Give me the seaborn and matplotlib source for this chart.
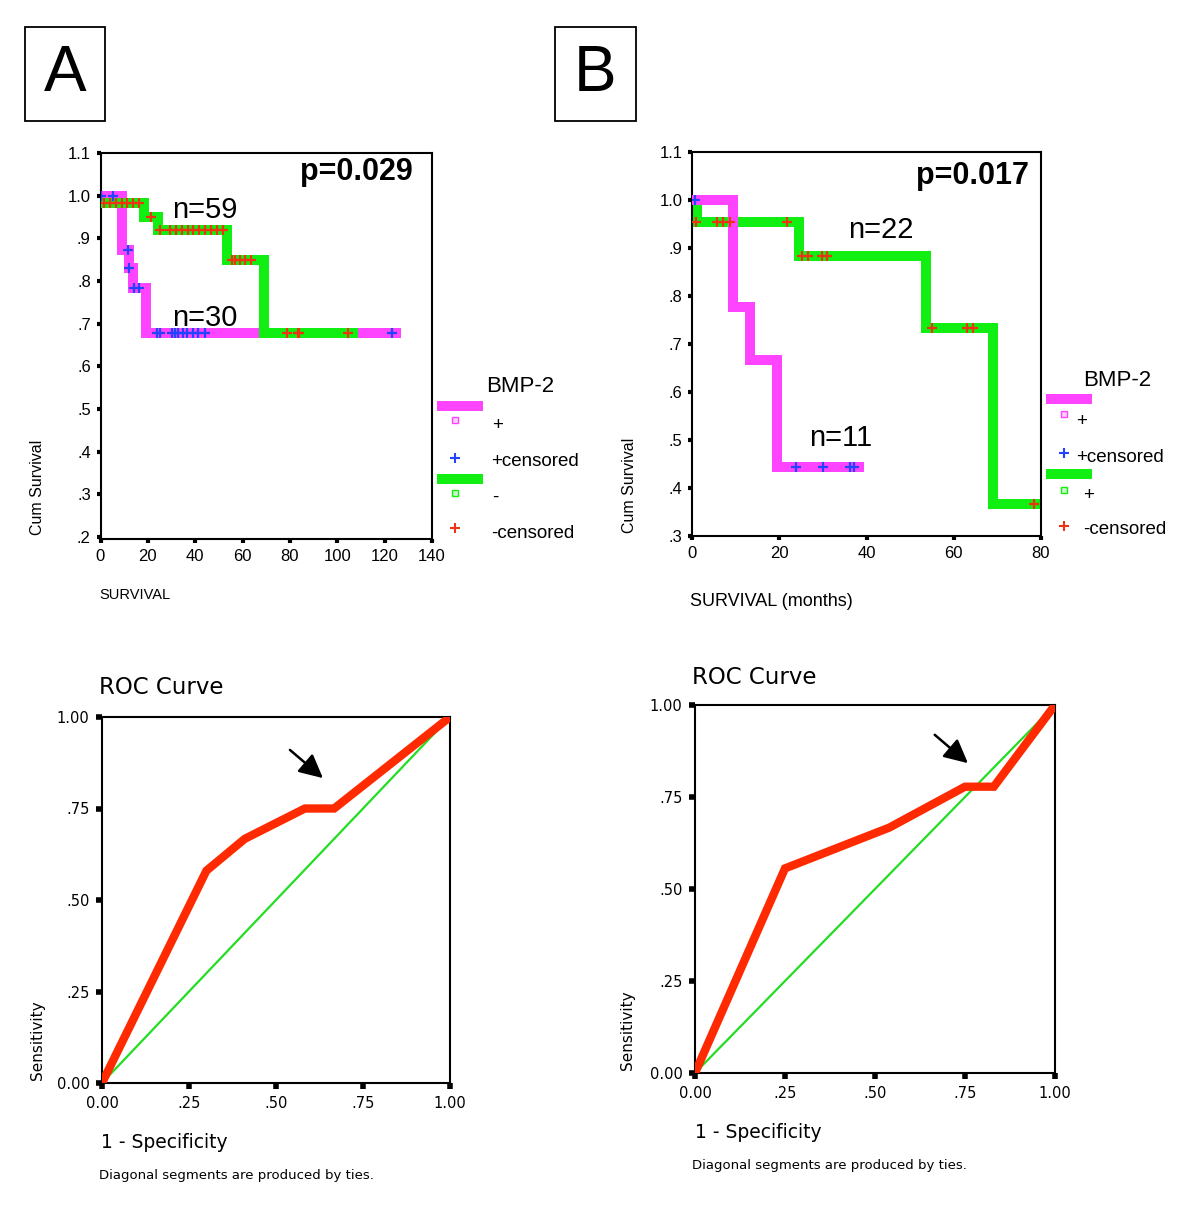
import numpy as np
import pandas as pd
import matplotlib
matplotlib.use('Agg')
import matplotlib.pyplot as plt
from matplotlib.patches import Rectangle
import seaborn as sns

W, H = 1200, 1219

# ---- Panel A, Kaplan-Meier (months vs cum survival) ----
A_POS_T = [0, 8.9, 12.0, 13.6, 19.2, 125]
A_POS_S = [1.0, 0.873, 0.83, 0.783, 0.678, 0.678]
A_NEG_T = [0, 18.5, 24.1, 53.5, 69.1, 106.7]
A_NEG_S = [0.983, 0.95, 0.92, 0.85, 0.678, 0.678]
A_POS_CENS_T = [0.3, 5.4, 11.5, 12.2, 14.3, 16.4, 23.7, 25.1, 30.0, 31.4, 32.8,
                34.9, 36.4, 39.2, 41.3, 44.1, 123.3]
A_POS_CENS_S = [1.0, 1.0, 0.873, 0.83, 0.783, 0.783] + [0.678] * 11
A_NEG_CENS_T = [1.5, 4.0, 6.5, 8.9, 11.3, 13.8, 16.4, 21.2,
                25.1, 29.3, 31.9, 34.3, 36.8, 39.2, 41.7, 44.1, 46.5, 49.0, 51.6,
                55.4, 56.8, 58.9, 61.0, 63.5, 78.6, 83.5, 83.9, 104.6]
A_NEG_CENS_S = [0.983] * 7 + [0.95] + [0.92] * 11 + [0.85] * 5 + [0.678] * 4

# ---- Panel B, Kaplan-Meier ----
B_POS_T = [0, 9.5, 13.3, 19.5, 38.2]
B_POS_S = [1.0, 0.778, 0.667, 0.444, 0.444]
B_NEG_T = [0, 1.1, 24.6, 53.7, 68.9, 79.4]
B_NEG_S = [1.0, 0.955, 0.883, 0.734, 0.367, 0.367]
B_POS_CENS_T = [0.7, 23.8, 30.0, 36.3, 37.1]
B_POS_CENS_S = [1.0, 0.444, 0.444, 0.444, 0.444]
B_NEG_CENS_T = [0.85, 5.8, 7.2, 8.6, 21.8, 25.2, 26.7, 29.8, 31.0, 55.1, 63.1, 64.3, 78.5]
B_NEG_CENS_S = [0.955] * 5 + [0.883] * 4 + [0.734] * 3 + [0.367]

# ---- ROC curves ----
A_FPR = [0.0, 0.30, 0.41, 0.583, 0.667, 1.0]
A_TPR = [0.0, 0.58, 0.667, 0.75, 0.75, 1.0]
B_FPR = [0.0, 0.25, 0.54, 0.75, 0.83, 1.0]
B_TPR = [0.0, 0.556, 0.667, 0.778, 0.778, 1.0]

KM_YTICKS_A = [0.2, 0.3, 0.4, 0.5, 0.6, 0.7, 0.8, 0.9, 1.0, 1.1]
KM_YTICKS_B = [0.3, 0.4, 0.5, 0.6, 0.7, 0.8, 0.9, 1.0, 1.1]
ROC_TICKS = [0, 0.25, 0.5, 0.75, 1.0]
ROC_LABELS = ['0.00', '.25', '.50', '.75', '1.00']

MAGENTA = '#ff44ff'
GREEN = '#11ee11'
BLUE = '#2244ff'
RED = '#ee3311'
ROC_RED = '#ff2a00'
DIAG = '#22dd22'

sns.set_style('white')
plt.rcParams['font.family'] = ['Liberation Sans', 'DejaVu Sans']
plt.rcParams['text.color'] = 'black'
plt.rcParams['axes.labelcolor'] = 'black'
plt.rcParams['xtick.color'] = 'black'
plt.rcParams['ytick.color'] = 'black'

fig = plt.figure(figsize=(W / 100, H / 100), dpi=100)


def box_ax(x0, y0, x1, y1):
    return fig.add_axes([x0 / W, 1 - y1 / H, (x1 - x0) / W, (y1 - y0) / H])


def km_label(v):
    s = f'{v:.1f}'
    return s[1:] if s.startswith('0') else s


def style_axes(ax, labelsize, fam, tlen=3, twid=3):
    for sp in ax.spines.values():
        sp.set_visible(True)
        sp.set_color('black')
        sp.set_linewidth(1.5)
    ax.tick_params(direction='out', length=tlen, width=twid, colors='black',
                   labelsize=labelsize, pad=4, top=False, right=False,
                   bottom=True, left=True)
    for lab in ax.get_xticklabels() + ax.get_yticklabels():
        lab.set_family(fam)
        lab.set_color('black')
    ax.set_xlabel('')
    ax.set_ylabel('')


def km_panel(ax, curves, marks, xmax, xticks, ylo, yticks):
    for t, s, col, z in curves:
        df = pd.DataFrame({'t': t, 's': s})
        sns.lineplot(data=df, x='t', y='s', ax=ax, color=col, lw=7.2,
                     drawstyle='steps-post', estimator=None, sort=False,
                     zorder=z, solid_capstyle='projecting',
                     solid_joinstyle='miter')
    for t, s, col in marks:
        sns.scatterplot(x=t, y=s, ax=ax, marker='+', s=55, color=col,
                        linewidth=1.6, zorder=5)
    ax.set_xlim(0, xmax)
    ax.set_ylim(ylo, 1.1)
    ax.set_xticks(xticks)
    ax.set_yticks(yticks)
    ax.set_yticklabels([km_label(v) for v in yticks])
    style_axes(ax, 12, 'Liberation Sans')


def roc_panel(ax, fpr, tpr, arrow):
    sns.lineplot(x=[0, 1], y=[0, 1], ax=ax, color=DIAG, lw=1.6,
                 estimator=None, sort=False, zorder=2)
    sns.lineplot(x=fpr, y=tpr, ax=ax, color=ROC_RED, lw=6,
                 estimator=None, sort=False, zorder=3,
                 solid_joinstyle='miter')
    ax.annotate('', xy=arrow[1], xytext=arrow[0],
                arrowprops=dict(arrowstyle='-|>', color='black', lw=1.8,
                                mutation_scale=36))
    ax.set_xlim(0, 1)
    ax.set_ylim(0, 1)
    ax.set_xticks(ROC_TICKS)
    ax.set_xticklabels(ROC_LABELS)
    ax.set_yticks(ROC_TICKS)
    ax.set_yticklabels(ROC_LABELS)
    style_axes(ax, 10.5, 'DejaVu Sans', tlen=4, twid=4)
    ax.tick_params(axis='x', pad=5)
    ax.tick_params(axis='y', pad=5)


# ---- panel A survival ----
axA = box_ax(100.5, 153, 432, 539)
km_panel(axA,
         [(A_POS_T, A_POS_S, MAGENTA, 2), (A_NEG_T, A_NEG_S, GREEN, 3)],
         [(A_POS_CENS_T, A_POS_CENS_S, BLUE), (A_NEG_CENS_T, A_NEG_CENS_S, RED)],
         140, range(0, 141, 20), 0.195, KM_YTICKS_A)
axA.text(108, 1.055, 'p=0.029', fontsize=22, fontweight='bold', ha='center', va='center', zorder=6)
axA.text(44, 0.966, 'n=59', fontsize=21, ha='center', va='center', zorder=6)
axA.text(44, 0.712, 'n=30', fontsize=21, ha='center', va='center', zorder=6)

# ---- panel B survival ----
axB = box_ax(692, 152, 1041, 536)
km_panel(axB,
         [(B_NEG_T, B_NEG_S, GREEN, 2), (B_POS_T, B_POS_S, MAGENTA, 3)],
         [(B_POS_CENS_T, B_POS_CENS_S, BLUE), (B_NEG_CENS_T, B_NEG_CENS_S, RED)],
         80, range(0, 81, 20), 0.3, KM_YTICKS_B)
axB.text(64.4, 1.05, 'p=0.017', fontsize=22, fontweight='bold', ha='center', va='center', zorder=6)
axB.text(43.2, 0.9375, 'n=22', fontsize=21, ha='center', va='center', zorder=6)
axB.text(34, 0.504, 'n=11', fontsize=21, ha='center', va='center', zorder=6)

# ---- ROC panels ----
axC = box_ax(102, 717, 450, 1083)
roc_panel(axC, A_FPR, A_TPR, ((0.534, 0.915), (0.641, 0.828)))
axD = box_ax(695, 705, 1055, 1073)
roc_panel(axD, B_FPR, B_TPR, ((0.660, 0.924), (0.764, 0.837)))

# ---- overlay for labels, legends, panel letters (pixel coordinates) ----
ov = fig.add_axes([0, 0, 1, 1], zorder=10)
ov.set_xlim(0, W)
ov.set_ylim(H, 0)
ov.axis('off')
ov.patch.set_alpha(0)

for x0, x1, letter in [(25, 105, 'A'), (555, 636, 'B')]:
    ov.add_patch(Rectangle((x0, 27), x1 - x0, 94, fill=False, ec='black', lw=1.3))
    ov.text((x0 + x1) / 2, 74, letter, fontsize=46, ha='center', va='center')

ov.text(37, 487, 'Cum Survival', fontsize=11.5, rotation=90, ha='center', va='center')
ov.text(629, 485, 'Cum Survival', fontsize=11.5, rotation=90, ha='center', va='center')
ov.text(99, 595, 'SURVIVAL', fontsize=10.5, ha='left', va='center')
ov.text(690, 602, 'SURVIVAL (months)', fontsize=13, ha='left', va='center')

roc_txt = dict(family='DejaVu Sans')
ov.text(99, 688, 'ROC Curve', fontsize=16.5, ha='left', va='center', **roc_txt)
ov.text(692, 677, 'ROC Curve', fontsize=16.5, ha='left', va='center', **roc_txt)
ov.text(38, 1040, 'Sensitivity', fontsize=11, rotation=90, ha='center', va='center', **roc_txt)
ov.text(628, 1030, 'Sensitivity', fontsize=11, rotation=90, ha='center', va='center', **roc_txt)
ov.text(101, 1143, '1 - Specificity', fontsize=13.5, ha='left', va='center', **roc_txt)
ov.text(695, 1133, '1 - Specificity', fontsize=13.5, ha='left', va='center', **roc_txt)
ov.text(99, 1176, 'Diagonal segments are produced by ties.', fontsize=9.5, ha='left', va='center', **roc_txt)
ov.text(692, 1166, 'Diagonal segments are produced by ties.', fontsize=9.5, ha='left', va='center', **roc_txt)


def legend_block(x0, title_xy, rows, labels):
    ov.text(title_xy[0], title_xy[1], 'BMP-2', fontsize=16, ha='center', va='center')
    (bar1, sq1, txt1), (bl, txt2), (bar2, sq2, txt3), (rd, txt4) = rows
    ov.add_patch(Rectangle((x0, bar1), 46, 10, color=MAGENTA, lw=0))
    ov.plot(x0 + 18, sq1, marker='s', ms=4, mfc='#ffd0ff', mec=MAGENTA, mew=1)
    ov.text(labels[0][0], txt1, labels[0][1], fontsize=13.5, ha='left', va='center')
    ov.plot(x0 + 18, bl, marker='+', ms=7, mec=BLUE, mew=1.5)
    ov.text(labels[1][0], txt2, labels[1][1], fontsize=13.5, ha='left', va='center')
    ov.add_patch(Rectangle((x0, bar2), 46, 10, color=GREEN, lw=0))
    ov.plot(x0 + 18, sq2, marker='s', ms=4, mfc='#c8ffc8', mec=GREEN, mew=1)
    ov.text(labels[2][0], txt3, labels[2][1], fontsize=13.5, ha='left', va='center')
    ov.plot(x0 + 18, rd, marker='+', ms=7, mec=RED, mew=1.5)
    ov.text(labels[3][0], txt4, labels[3][1], fontsize=13.5, ha='left', va='center')


legend_block(437, (520, 386),
             [(401, 420, 426), (458, 462), (474, 493, 497), (528, 533)],
             [(492, '+'), (491, '+censored'), (492, '-'), (491, '-censored')])
legend_block(1046, (1117, 380),
             [(394, 414, 421), (453, 457), (469, 490, 496), (526, 530)],
             [(1076, '+'), (1076, '+censored'), (1083, '+'), (1083, '-censored')])

fig.savefig('out.png', dpi=100, facecolor='white')
